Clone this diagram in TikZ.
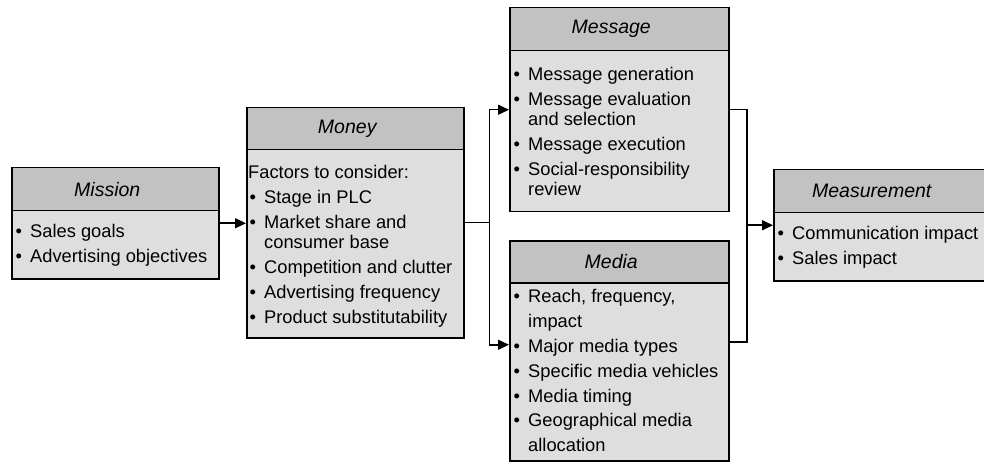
\documentclass[tikz,border=0pt]{standalone}
\usepackage{fontspec}
\setmainfont{Liberation Sans}
\usetikzlibrary{arrows.meta}
\newcommand{\itm}{\makebox[16pt][l]{\hspace*{1.5pt}\textbullet}}
\newcommand{\cont}{\hspace*{16pt}}
\begin{document}
\begin{tikzpicture}[x=1pt,y=-1pt,
  boxbody/.style={draw=black, line width=1.5pt, fill=black!13, inner sep=0pt, anchor=north west},
  boxhead/.style={draw=black, line width=1.5pt, fill=black!24, inner sep=0pt, anchor=north west},
  headtxt/.style={inner sep=0pt, font=\fontsize{19.5}{22}\selectfont\itshape},
  bodytxt/.style={anchor=north west, inner sep=0pt, align=left, font=\fontsize{18.3}{20}\selectfont},
  conn/.style={line width=1.5pt},
  arr/.style={conn, -{Triangle[length=11pt,width=10pt]}}]
\useasboundingbox[fill=white] (0,0) rectangle (984,462);

% Mission
\node[boxbody, minimum width=207pt, minimum height=111pt] (mission) at (11,167) {};
\node[boxhead, minimum width=207pt, minimum height=43pt] (missionh) at (mission.north west) {};
\node[headtxt] (missiont) at ([xshift=-8pt]missionh.center) {Mission};
\node[bodytxt] (missionb) at ([xshift=3pt,yshift=-13pt]missionh.south west)
  {\itm Sales goals\\[5pt]\itm Advertising objectives};

% Money
\node[boxbody, minimum width=217pt, minimum height=230pt] (money) at (246,107) {};
\node[boxhead, minimum width=217pt, minimum height=42pt] (moneyh) at (money.north west) {};
\node[headtxt] (moneyt) at ([xshift=-8pt]moneyh.center) {Money};
\node[bodytxt] (moneyb) at ([xshift=2pt,yshift=-15pt]moneyh.south west)
  {Factors to consider:\\[5pt]\itm Stage in PLC\\[5pt]\itm Market share and\\\cont consumer base\\[5pt]\itm Competition and clutter\\[5pt]\itm Advertising frequency\\[5pt]\itm Product substitutability};

% Message
\node[boxbody, minimum width=219pt, minimum height=204pt] (message) at (509,7) {};
\node[boxhead, minimum width=219pt, minimum height=43pt] (messageh) at (message.north west) {};
\node[headtxt] (messaget) at ([xshift=-8pt]messageh.center) {Message};
\node[bodytxt] (messageb) at ([xshift=3pt,yshift=-16pt]messageh.south west)
  {\itm Message generation\\[5pt]\itm Message evaluation\\\cont and selection\\[5pt]\itm Message execution\\[5pt]\itm Social-responsibility\\\cont review};

% Media
\node[boxbody, minimum width=219pt, minimum height=220pt] (media) at (509,240) {};
\node[boxhead, minimum width=219pt, minimum height=42pt] (mediah) at (media.north west) {};
\node[headtxt] (mediat) at ([xshift=-8pt]mediah.center) {Media};
\node[bodytxt, font=\fontsize{18.3}{24.8}\selectfont] (mediab) at ([xshift=3pt,yshift=-6pt]mediah.south west)
  {\itm Reach, frequency,\\\cont impact\\\itm Major media types\\\itm Specific media vehicles\\\itm Media timing\\\itm Geographical media\\\cont allocation};

% Measurement
\node[boxbody, minimum width=212pt, minimum height=111pt] (measurement) at (773,169) {};
\node[boxhead, minimum width=212pt, minimum height=43pt] (measurementh) at (measurement.north west) {};
\node[headtxt] (measurementt) at ([xshift=-8pt]measurementh.center) {Measurement};
\node[bodytxt] (measurementb) at ([xshift=3pt,yshift=-13pt]measurementh.south west)
  {\itm Communication impact\\[5pt]\itm Sales impact};

% Connectors
\draw[arr] (mission.east) -- (mission.east -| money.west);
\path (money.east) -- ++(25,0) coordinate (split);
\draw[conn] (money.east) -- (split);
\draw[arr] (split) |- (message.west);
\draw[arr] (split) |- ([yshift=6pt]media.west);
\path (measurement.west) -- ++(-26,0) coordinate (mj);
\draw[conn] (message.east) -| (mj);
\draw[conn] ([yshift=9pt]media.east) -| (mj);
\draw[arr] (mj) -- (measurement.west);
\end{tikzpicture}
\end{document}
